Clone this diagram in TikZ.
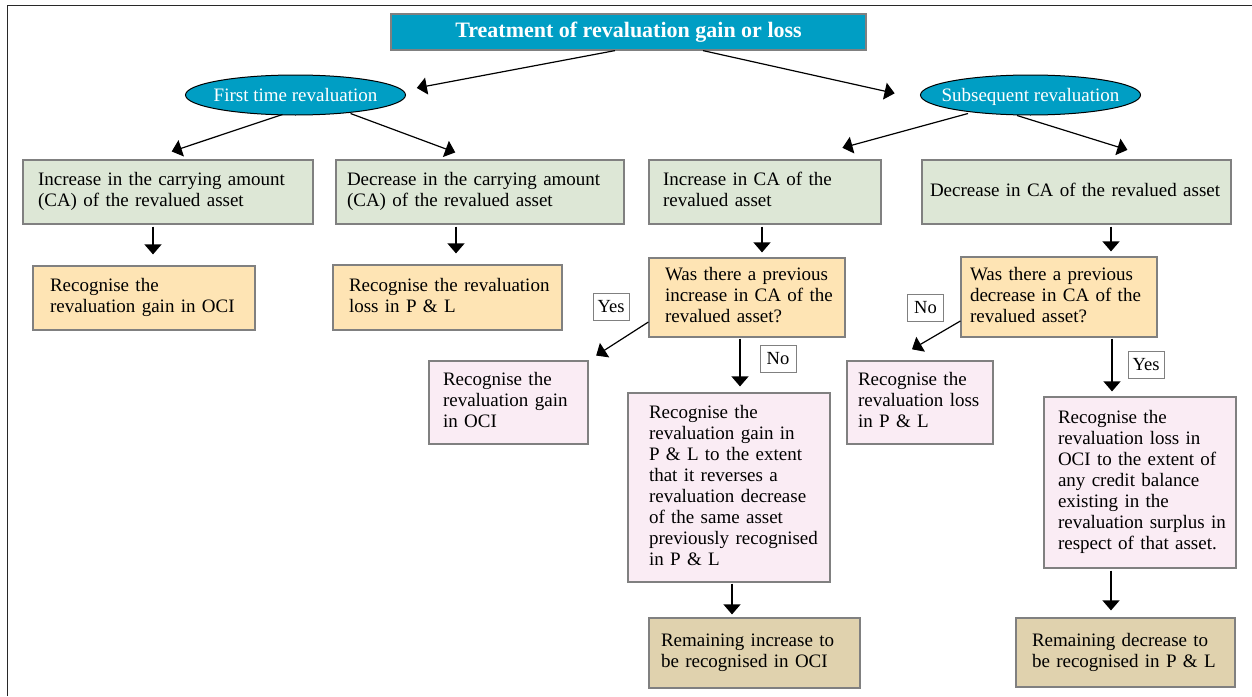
\documentclass[tikz,border=0pt]{standalone}
\usepackage{fontspec}
\setmainfont{Liberation Serif}
\usetikzlibrary{arrows.meta,shapes.geometric}

\definecolor{tealblue}{RGB}{0,158,196}
\definecolor{sage}{RGB}{221,231,214}
\definecolor{apricot}{RGB}{254,228,180}
\definecolor{blush}{RGB}{250,236,244}
\definecolor{khaki}{RGB}{224,210,174}
\definecolor{boxline}{RGB}{128,128,128}
\definecolor{frameline}{RGB}{40,40,40}

% lines of a box, kept on one line each
\newcommand\lns[1]{\begin{tabular}{@{}l@{}}#1\end{tabular}}
% oval text in a box of no size, so the oval keeps its own size and the
% line sits optically centred
\newcommand\ovaltext[1]{\raisebox{-6pt}[0pt][0pt]{\makebox[0pt][c]{#1}}}

\tikzset{
  base/.style={draw=boxline, line width=1.2pt, align=left, inner ysep=0pt,
    font=\fontsize{19pt}{21pt}\selectfont},
  gbox/.style={base, fill=sage},
  obox/.style={base, fill=apricot},
  pbox/.style={base, fill=blush},
  tbox/.style={base, fill=khaki},
  oval/.style={ellipse, draw=black, line width=1pt, fill=tealblue, text=white,
    inner sep=0pt, minimum width=220pt, minimum height=40pt,
    font=\fontsize{19pt}{21pt}\selectfont},
  headbox/.style={draw=boxline, line width=1.2pt, fill=tealblue, text=white,
    minimum width=475pt, minimum height=36pt, inner sep=0pt,
    font=\fontsize{22pt}{24pt}\selectfont\bfseries},
  lbl/.style={draw=boxline, fill=white, line width=1pt, minimum width=36pt,
    minimum height=27pt, inner sep=0pt, font=\fontsize{18.5pt}{20pt}\selectfont},
  arr/.style={line width=1.2pt, -{Triangle[length=10pt,width=17pt]}},
}

\begin{document}
\begin{tikzpicture}[x=1pt,y=-1pt]
\useasboundingbox (0,0) rectangle (1252,696);

% outer frame (top and left edges)
\draw[frameline, line width=1.8pt] (7.5,696) -- (7.5,5.5) -- (1252,5.5);

% heading and the two branches
\node[headbox] (title) at (628.5,32) {Treatment of revaluation gain or loss};
\node[oval] (e1) at (295.5,95) {\ovaltext{First time revaluation}};
\node[oval] (e2) at (1030.5,95) {\ovaltext{Subsequent revaluation}};

% first row of boxes
\node[gbox, text width=260pt, inner xsep=15pt, minimum height=64pt] (g1) at (168,192)
  {\lns{Increase in the carrying amount\\(CA) of the revalued asset}};
\node[gbox, text width=266pt, inner xsep=11pt, minimum height=64pt] (g2) at (480,192)
  {\lns{Decrease in the carrying amount\\(CA) of the revalued asset}};
\node[gbox, text width=204pt, inner xsep=14pt, minimum height=64pt] (g3) at (765,192)
  {\lns{Increase in CA of the\\revalued asset}};
\node[gbox, text width=293pt, inner xsep=8pt, minimum height=64pt] (g4) at (1076.5,192)
  {\lns{Decrease in CA of the revalued asset}};

% second row
\node[obox, text width=188pt, inner xsep=17pt, minimum height=64pt] (o1) at (144,298)
  {\lns{Recognise the\\revaluation gain in OCI}};
\node[obox, text width=197pt, inner xsep=16pt, minimum height=65pt] (o2) at (447.5,297.5)
  {\lns{Recognise the revaluation\\loss in P \& L}};
\node[obox, text width=164pt, inner xsep=16pt, minimum height=79pt] (q1) at (747,297.5)
  {\lns{Was there a previous\\increase in CA of the\\revalued asset?}};
\node[obox, text width=178pt, inner xsep=9pt, minimum height=80pt] (q2) at (1059,297)
  {\lns{Was there a previous\\decrease in CA of the\\revalued asset?}};

% outcomes
\node[pbox, text width=131pt, inner xsep=14pt, minimum height=83pt] (p1) at (508.5,402.5)
  {\lns{Recognise the\\revaluation gain\\in OCI}};
\node[pbox, text width=160pt, inner xsep=21pt, minimum height=189pt] (p2) at (729,487.5)
  {\lns{Recognise the\\revaluation gain in\\P \& L to the extent\\that it reverses a\\revaluation decrease\\of the same asset\\previously recognised\\in P \& L}};
\node[pbox, text width=124pt, inner xsep=11pt, minimum height=83pt] (p3) at (920,402.5)
  {\lns{Recognise the\\revaluation loss\\in P \& L}};
\node[pbox, text width=164pt, inner xsep=14pt, minimum height=171pt] (p4) at (1140,482.5)
  {\lns{Recognise the\\revaluation loss in\\OCI to the extent of\\any credit balance\\existing in the\\revaluation surplus in\\respect of that asset.}};

\node[tbox, text width=187pt, inner xsep=12pt, minimum height=70pt] (t1) at (754.5,653)
  {\lns{Remaining increase to\\be recognised in OCI}};
\node[tbox, text width=187pt, inner xsep=16pt, minimum height=69pt] (t2) at (1125.5,652.5)
  {\lns{Remaining decrease to\\be recognised in P \& L}};

% answer labels
\node[lbl] (yes1) at (611,306.5) {Yes};
\node[lbl] (no1) at (778,358.5) {No};
\node[lbl] (no2) at (925.5,308) {No};
\node[lbl] (yes2) at (1146,365) {Yes};

% connectors from the heading
\draw[arr, shorten >=11pt] ([xshift=-13.5pt]title.south) -- ([yshift=5pt]e1.east);
\draw[arr, shorten >=26pt] ([xshift=74.5pt]title.south) -- ([yshift=-4pt]e2.west);

% connectors from the branches
\draw[arr, shorten >=25pt] ([xshift=-13pt,yshift=1pt]e1.south) -- ([xshift=-20pt]g1.north);
\draw[arr, shorten >=20pt] ([xshift=55pt,yshift=2pt]e1.south) -- ([xshift=-6pt]g2.north);
\draw[arr, shorten >=44pt] ([xshift=-62.5pt,yshift=2pt]e2.south) -- ([xshift=35pt]g3.north);
\draw[arr, shorten >=32pt] ([xshift=-13.5pt]e2.south) -- ([xshift=81.5pt]g4.north);

% downward connectors
\draw[arr, shorten <=2pt, shorten >=11pt] ([xshift=-15pt]g1.south) -- ([xshift=9pt]o1.north);
\draw[arr, shorten <=2pt, shorten >=11pt] ([xshift=-24pt]g2.south) -- ([xshift=8.5pt]o2.north);
\draw[arr, shorten <=2pt, shorten >=5pt] ([xshift=-3pt]g3.south) -- ([xshift=15pt]q1.north);
\draw[arr, shorten <=2pt, shorten >=5pt] ([xshift=34.5pt]g4.south) -- ([xshift=52pt]q2.north);
\draw[arr, shorten <=1pt, shorten >=6pt] ([xshift=-7pt]q1.south) -- ([xshift=11pt]p2.north);
\draw[arr, shorten <=1pt, shorten >=5pt] ([xshift=53pt]q2.south) -- ([xshift=-28pt]p4.north);
\draw[arr, shorten <=1pt, shorten >=3pt] ([xshift=3pt]p2.south) -- ([xshift=-22.5pt]t1.north);
\draw[arr, shorten <=2pt, shorten >=7pt] ([xshift=-29pt]p4.south) -- ([xshift=-14.5pt]t2.north);

% sideways answers
\draw[arr, shorten >=9pt] ([yshift=-24.5pt]q1.west) -- (p1.north east);
\draw[arr, shorten >=22pt] ([yshift=-24pt]q2.west) -- ([xshift=-27pt]p3.north);
\end{tikzpicture}
\end{document}
